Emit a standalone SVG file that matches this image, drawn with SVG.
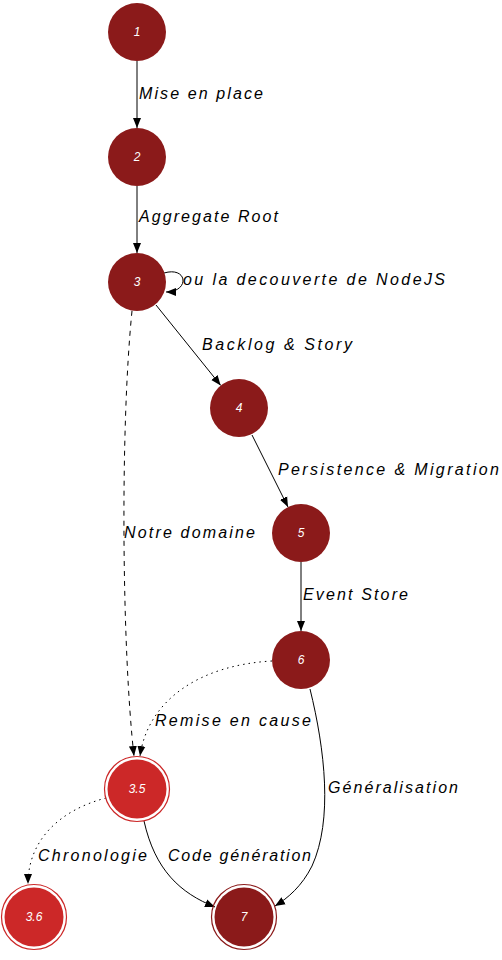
<svg xmlns="http://www.w3.org/2000/svg" width="502" height="960" viewBox="0 0 502 960">
<style>
.n{fill:#8b1a1a}
.l{fill:#cc2828}
.ring{fill:none;stroke-width:1.2}
.t{fill:#fff;font-family:"Liberation Sans",sans-serif;font-style:italic;font-size:12px;text-anchor:middle}
.e{fill:none;stroke:#000;stroke-width:1}
.dash{stroke-dasharray:5,5}
.dot{stroke-dasharray:1.5,4}
.lb{fill:#000;font-family:"Liberation Sans",sans-serif;font-style:italic;font-size:16px}
</style>
<defs>
<marker id="a" viewBox="0 0 10 10" refX="10" refY="5" markerWidth="10" markerHeight="10" markerUnits="userSpaceOnUse" orient="auto">
<path d="M0,1 L10,5 L0,9 z" fill="#000"/>
</marker>
</defs>
<rect width="502" height="960" fill="#fff"/>
<g id="connectors">
<path class="e" d="M137,61 L137,128" marker-end="url(#a)"/>
<text class="lb" x="139" y="99" textLength="124">Mise en place</text>
<path class="e" d="M137,186 L137,253" marker-end="url(#a)"/>
<text class="lb" x="139" y="222" textLength="139">Aggregate Root</text>
<path class="e" d="M164,273 C188,266 190,292 166,292" marker-end="url(#a)"/>
<text class="lb" x="183" y="285" textLength="262">ou la decouverte de NodeJS</text>
<path class="e" d="M156,305 L220.7,385.4" marker-end="url(#a)"/>
<text class="lb" x="202" y="350" textLength="150">Backlog &amp; Story</text>
<path class="e" d="M252,435 L288,507" marker-end="url(#a)"/>
<text class="lb" x="278" y="475" textLength="221">Persistence &amp; Migration</text>
<path class="e dash" d="M132,311 C120,430 122,650 134,756" marker-end="url(#a)"/>
<text class="lb" x="124" y="538" textLength="131">Notre domaine</text>
<path class="e" d="M301,562 L301,631" marker-end="url(#a)"/>
<text class="lb" x="303" y="600" textLength="105">Event Store</text>
<path class="e dot" d="M272,661 C200,665 148,700 140,756" marker-end="url(#a)"/>
<text class="lb" x="155" y="726" textLength="156">Remise en cause</text>
<path class="e" d="M310,689 C325,750 333,820 312,866 C302,886 288,898 275,906" marker-end="url(#a)"/>
<text class="lb" x="328" y="793" textLength="130">Généralisation</text>
<path class="e dot" d="M106,798 C60,810 28,840 28,884" marker-end="url(#a)"/>
<text class="lb" x="38" y="861" textLength="109">Chronologie</text>
<path class="e" d="M144,821 C155,870 180,893 215,907" marker-end="url(#a)"/>
<text class="lb" x="168" y="861" textLength="143">Code génération</text>
</g>
<g id="n1"><circle class="n" cx="137" cy="32" r="29"/><text class="t" x="137" y="36">1</text></g>
<g id="n2"><circle class="n" cx="137" cy="157" r="29"/><text class="t" x="137" y="161">2</text></g>
<g id="n3"><circle class="n" cx="137" cy="282" r="29"/><text class="t" x="137" y="286">3</text></g>
<g id="n4"><circle class="n" cx="239" cy="408" r="29"/><text class="t" x="239" y="412">4</text></g>
<g id="n5"><circle class="n" cx="301" cy="533" r="29"/><text class="t" x="301" y="537">5</text></g>
<g id="n6"><circle class="n" cx="301" cy="660" r="29"/><text class="t" x="301" y="664">6</text></g>
<g id="n35"><circle class="ring" stroke="#cc2828" cx="137" cy="789" r="32.5"/><circle class="l" cx="137" cy="789" r="29.5"/><text class="t" x="137" y="793">3.5</text></g>
<g id="n36"><circle class="ring" stroke="#cc2828" cx="34" cy="917" r="32.5"/><circle class="l" cx="34" cy="917" r="29.5"/><text class="t" x="34" y="921">3.6</text></g>
<g id="n7"><circle class="ring" stroke="#8b1a1a" cx="244" cy="917" r="32.5"/><circle class="n" cx="244" cy="917" r="29.5"/><text class="t" x="244" y="921">7</text></g>
</svg>
